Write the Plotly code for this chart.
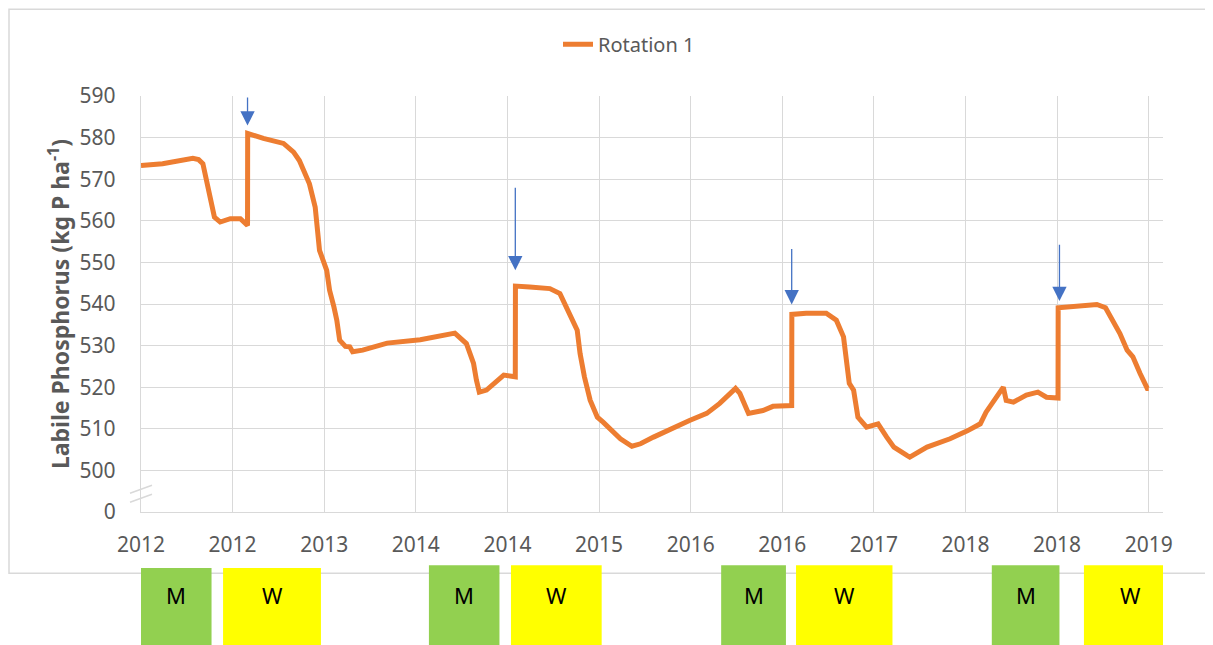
import plotly.graph_objects as go

# ---- data (decimal years, labile P in kg P/ha) ----
years = [2012.00, 2012.15, 2012.36, 2012.40, 2012.43, 2012.48, 2012.51, 2012.55, 2012.62, 2012.69,
         2012.74, 2012.741, 2012.85, 2012.99, 2013.06, 2013.10, 2013.17, 2013.21, 2013.24, 2013.29,
         2013.31, 2013.34, 2013.36, 2013.38, 2013.42, 2013.45, 2013.47, 2013.54, 2013.66, 2013.71,
         2013.94, 2014.05, 2014.18, 2014.26, 2014.31, 2014.33, 2014.35, 2014.40, 2014.52, 2014.60,
         2014.601, 2014.70, 2014.84, 2014.91, 2014.98, 2015.03, 2015.05, 2015.08, 2015.12, 2015.17,
         2015.21, 2015.26, 2015.33, 2015.41, 2015.47, 2015.56, 2015.70, 2015.81, 2015.93, 2016.02,
         2016.13, 2016.16, 2016.22, 2016.32, 2016.39, 2016.52, 2016.521, 2016.62, 2016.76, 2016.83,
         2016.88, 2016.90, 2016.92, 2016.95, 2016.98, 2017.04, 2017.12, 2017.18, 2017.23, 2017.32,
         2017.34, 2017.46, 2017.62, 2017.74, 2017.83, 2017.87, 2017.94, 2017.99, 2018.01, 2018.06,
         2018.15, 2018.23, 2018.29, 2018.37, 2018.371, 2018.50, 2018.64, 2018.70, 2018.75, 2018.80,
         2018.85, 2018.89, 2018.94, 2018.99, 2019.00]
labile_p = [573.3, 573.7, 575.0, 574.7, 573.7, 566.5, 560.9, 559.7, 560.5, 560.5,
            558.9, 581.0, 579.8, 578.6, 576.5, 574.5, 568.9, 563.3, 552.9, 548.1,
            543.3, 539.3, 536.1, 531.3, 529.8, 529.7, 528.5, 528.9, 530.1, 530.6,
            531.4, 532.1, 533.0, 530.5, 525.7, 521.7, 518.8, 519.3, 522.9, 522.5,
            544.3, 544.1, 543.7, 542.5, 537.7, 533.7, 528.1, 522.5, 516.9, 512.8,
            511.6, 510.0, 507.6, 505.8, 506.4, 508.0, 510.4, 512.0, 513.7, 516.1,
            519.7, 518.5, 513.7, 514.4, 515.4, 515.6, 537.5, 537.8, 537.8, 536.1,
            532.1, 526.5, 520.9, 519.3, 512.8, 510.4, 511.2, 508.0, 505.6, 503.6,
            503.2, 505.6, 507.6, 509.5, 511.2, 514.0, 517.6, 520.0, 516.8, 516.4,
            518.1, 518.8, 517.6, 517.4, 539.1, 539.4, 539.9, 539.1, 536.1, 532.9,
            528.9, 527.3, 523.3, 519.7, 519.7]

tick_labels = ["2012", "2012", "2013", "2014", "2014", "2015",
               "2016", "2016", "2017", "2018", "2018", "2019"]
y_tick_values = [490, 500, 510, 520, 530, 540, 550, 560, 570, 580, 590]
y_tick_labels = ["0", "500", "510", "520", "530", "540", "550", "560", "570", "580", "590"]

# fertiliser application arrows: year, arrow tail value, arrow tip value
arrow_years = [2012.74, 2014.60, 2016.52, 2018.38]
arrow_tails = [590.0, 568.3, 553.6, 554.6]
arrow_tips = [582.9, 548.1, 539.9, 540.7]

# crop periods below the chart
crop_labels = ["M", "W", "M", "W", "M", "W", "M", "W"]
crop_starts = [2011.99, 2012.57, 2014.00, 2014.57, 2016.03, 2016.55, 2017.91, 2018.55]
crop_ends = [2012.49, 2013.25, 2014.49, 2015.20, 2016.48, 2017.22, 2018.38, 2019.20]

# ---- figure (page body has an 8px margin, so the figure is 8px smaller) ----
OFF = 8
W, H = 1213 - OFF, 645 - OFF
L, T = 141 - OFF, 95.7 - OFF
pw, ph = 1022, 416
R, B = W - L - pw, H - T - ph


def px(xp):  # screen x -> paper
    return (xp - OFF - L) / pw


def py(yp):  # screen y -> paper
    return (T + ph - (yp - OFF)) / ph


FONT = "Noto Sans"
GRID = "#D9D9D9"
TXT = "#595959"

fig = go.Figure()
fig.add_trace(go.Scatter(
    x=years, y=labile_p, mode="lines", name="Rotation 1",
    line=dict(color="#ED7D31", width=5),
))

tickvals = [2012 + i * 7 / 11 for i in range(len(tick_labels))]

shapes = []
# outer chart frame
shapes.append(dict(type="rect", xref="paper", yref="paper",
                   x0=px(9), x1=px(1206), y0=py(573), y1=py(9),
                   line=dict(color=GRID, width=1.5), fillcolor="rgba(0,0,0,0)", layer="below"))
# axis break marks
for off in (0, 9):
    shapes.append(dict(type="line", xref="paper", yref="paper",
                       x0=px(130), y0=py(493 + off), x1=px(152), y1=py(485 + off),
                       line=dict(color=GRID, width=1.5)))

annotations = []
for lab, s, e in zip(crop_labels, crop_starts, crop_ends):
    color = "#92D050" if lab == "M" else "#FFFF00"
    top = 567.7 if s < 2013.5 else 565
    shapes.append(dict(type="rect", xref="x", yref="paper", x0=s, x1=e,
                       y0=py(650), y1=py(top), fillcolor=color, line=dict(width=0),
                       layer="above"))
    annotations.append(dict(x=(s + e) / 2, y=py(611.7), xref="x", yref="paper",
                            text=lab, showarrow=False,
                            font=dict(family=FONT, size=22, color="#000000")))

for xa, ta, tp in zip(arrow_years, arrow_tails, arrow_tips):
    annotations.append(dict(x=xa, y=tp, ax=xa, ay=ta, xref="x", yref="y",
                            axref="x", ayref="y", text="", showarrow=True,
                            arrowhead=2, arrowsize=2.2, arrowwidth=1.3,
                            arrowcolor="#4472C4"))

fig.update_layout(
    width=W, height=H,
    margin=dict(l=L, r=R, t=T, b=B, pad=0, autoexpand=False),
    paper_bgcolor="white", plot_bgcolor="white",
    font=dict(family=FONT, color=TXT),
    showlegend=True,
    legend=dict(orientation="h", x=px(629), xanchor="center", y=py(44), yanchor="middle",
                font=dict(family=FONT, size=20, color=TXT), bgcolor="rgba(0,0,0,0)"),
    xaxis=dict(range=[2012, 2012 + pw / 143.96], tickmode="array", tickvals=tickvals,
               ticktext=tick_labels, showgrid=True, gridcolor=GRID, gridwidth=1.3,
               showline=True, linecolor=GRID, linewidth=1.3, ticks="", zeroline=False,
               tickfont=dict(family=FONT, size=21, color=TXT), ticklabelstandoff=14),
    yaxis=dict(range=[490, 590], tickmode="array", tickvals=y_tick_values,
               ticktext=y_tick_labels, showgrid=True, gridcolor=GRID, gridwidth=1.3,
               showline=True, linecolor=GRID, linewidth=1.3, ticks="", zeroline=False,
               tickfont=dict(family=FONT, size=21, color=TXT), ticklabelstandoff=20,
               title=dict(text="<b>Labile Phosphorus (kg P ha<sup>-1</sup>)</b>",
                          font=dict(family=FONT, size=23, color=TXT), standoff=3)),
    shapes=shapes, annotations=annotations,
)

fig.write_html("out.html")
